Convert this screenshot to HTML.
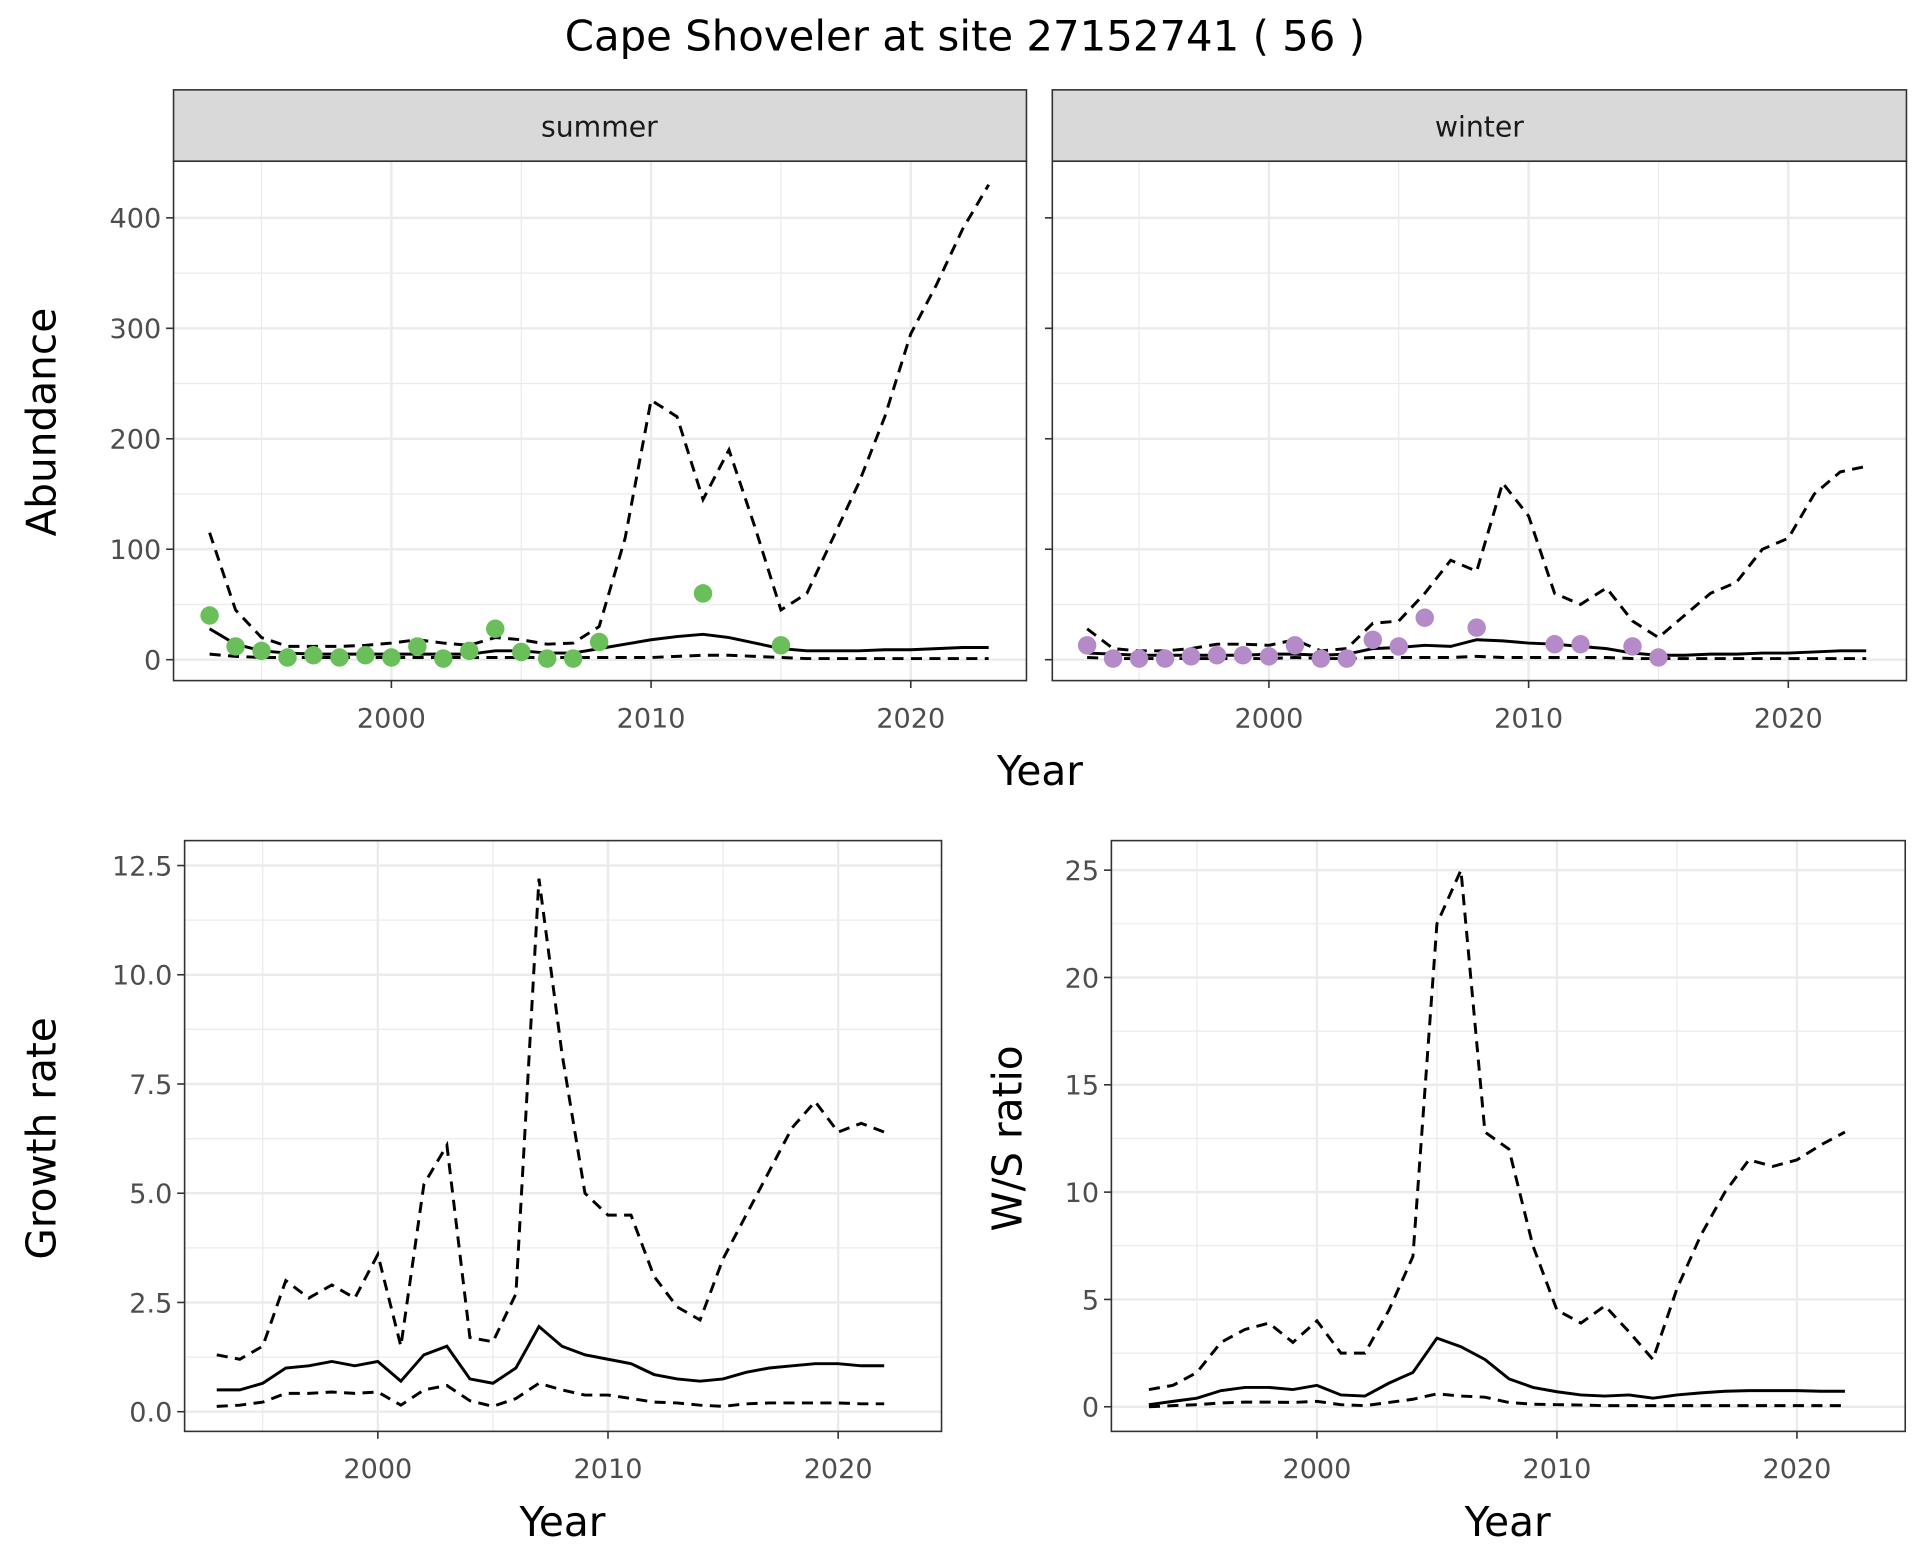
<!DOCTYPE html>
<html><head><meta charset="utf-8"><style>html,body{margin:0;padding:0;background:#fff}svg{display:block}text{font-family:"DejaVu Sans","Liberation Sans",sans-serif}</style></head>
<body>
<svg id="s" width="1920" height="1560" viewBox="0 0 1560 1267.5" xmlns="http://www.w3.org/2000/svg"></svg>
<script>
const S=document.getElementById('s');let h='';
h+='<rect width="1560" height="1268" fill="#fff"/>';
h+='<text x="784" y="41" font-size="34" text-anchor="middle" fill="#000">Cape Shoveler at site 27152741 ( 56 )</text>';
function panel(o){
 const{x0,x1,y0,y1,xf,yf,yt,ytl}=o;
 let g='';
 g+=`<rect x="${x0}" y="${y0}" width="${x1-x0}" height="${y1-y0}" fill="#fff"/>`;
 [1995,2005,2015].forEach(v=>{g+=`<line x1="${xf(v)}" x2="${xf(v)}" y1="${y0}" y2="${y1}" stroke="#ebebeb" stroke-width="1"/>`});
 o.ym.forEach(v=>{g+=`<line x1="${x0}" x2="${x1}" y1="${yf(v)}" y2="${yf(v)}" stroke="#ebebeb" stroke-width="1"/>`});
 [2000,2010,2020].forEach(v=>{g+=`<line x1="${xf(v)}" x2="${xf(v)}" y1="${y0}" y2="${y1}" stroke="#ebebeb" stroke-width="2"/>`});
 yt.forEach(v=>{g+=`<line x1="${x0}" x2="${x1}" y1="${yf(v)}" y2="${yf(v)}" stroke="#ebebeb" stroke-width="2"/>`});
 const line=(ys,x0y,dash)=>{let p=ys.map((v,i)=>`${xf(x0y+i).toFixed(1)},${yf(v).toFixed(1)}`).join(' ');return `<polyline points="${p}" fill="none" stroke="#000" stroke-width="2.4" ${dash?'stroke-dasharray="9,6"':''}/>`};
 o.lines.forEach(l=>g+=line(l[0],o.start,l[1]));
 (o.pts||[]).forEach(p=>{g+=`<circle cx="${xf(p[0])}" cy="${yf(p[1])}" r="7.5" fill="${o.pc}"/>`});
 g+=`<rect x="${x0}" y="${y0}" width="${x1-x0}" height="${y1-y0}" fill="none" stroke="#333" stroke-width="1.3"/>`;
 [2000,2010,2020].forEach(v=>{g+=`<line x1="${xf(v)}" x2="${xf(v)}" y1="${y1}" y2="${y1+6}" stroke="#333" stroke-width="1.3"/><text x="${xf(v)}" y="${y1+38}" font-size="22" text-anchor="middle" fill="#4d4d4d">${v}</text>`});
 if(o.ylab!==false) yt.forEach((v,i)=>{g+=`<line x1="${x0-6}" x2="${x0}" y1="${yf(v)}" y2="${yf(v)}" stroke="#333" stroke-width="1.3"/><text x="${x0-10}" y="${yf(v)+8}" font-size="22" text-anchor="end" fill="#4d4d4d">${ytl[i]}</text>`});
 else yt.forEach(v=>{g+=`<line x1="${x0-6}" x2="${x0}" y1="${yf(v)}" y2="${yf(v)}" stroke="#333" stroke-width="1.3"/>`});
 return g;
}
const sx=v=>318+(v-2000)*21.1, sy=v=>536-v*0.8975;
const wx=v=>1031+(v-2000)*21.1;
const sUp=[115,45,20,12,12,12,13,15,18,15,13,20,18,14,15,30,110,235,220,145,190,120,45,60,110,160,220,295,340,390,430];
const sMe=[28,14,8,6,5,5,5,5,5,5,5,8,8,6,6,10,14,18,21,23,20,15,10,8,8,8,9,9,10,11,11];
const sLo=[5,3,2,2,2,2,2,2,2,2,2,2,2,2,2,2,2,2,3,4,4,3,2,1,1,1,1,1,1,1,1];
const sP=[[1993,40],[1994,12],[1995,8],[1996,2],[1997,4],[1998,2],[1999,4],[2000,2],[2001,12],[2002,1],[2003,8],[2004,28],[2005,7],[2006,1],[2007,1],[2008,16],[2012,60],[2015,13]];
const wUp=[28,10,8,8,10,14,14,13,18,8,10,33,35,60,90,80,160,130,60,50,65,35,20,40,60,70,100,110,150,170,175];
const wMe=[6,5,4,4,4,4,4,5,5,4,5,10,11,13,12,18,17,15,14,12,10,6,4,4,5,5,6,6,7,8,8];
const wLo=[2,1,1,1,1,1,1,1,2,1,1,2,2,2,2,3,2,2,2,2,2,1,1,1,1,1,1,1,1,1,1];
const wP=[[1993,13],[1994,1],[1995,1],[1996,1],[1997,3],[1998,4],[1999,4],[2000,3],[2001,13],[2002,1],[2003,1],[2004,18],[2005,12],[2006,38],[2008,29],[2011,14],[2012,14],[2014,12],[2015,2]];
h+=`<rect x="141" y="73" width="693" height="58" fill="#d9d9d9" stroke="#333" stroke-width="1.3"/><text x="487" y="111" font-size="23" text-anchor="middle" fill="#1a1a1a">summer</text>`;
h+=`<rect x="855" y="73" width="694" height="58" fill="#d9d9d9" stroke="#333" stroke-width="1.3"/><text x="1202" y="111" font-size="23" text-anchor="middle" fill="#1a1a1a">winter</text>`;
h+=panel({x0:141,x1:834,y0:131,y1:553,xf:sx,yf:sy,yt:[0,100,200,300,400],ytl:['0','100','200','300','400'],ym:[50,150,250,350],start:1993,lines:[[sUp,1],[sMe,0],[sLo,1]],pts:sP,pc:'#6abf5a'});
h+=panel({x0:855,x1:1549,y0:131,y1:553,xf:wx,yf:sy,yt:[0,100,200,300,400],ytl:[],ym:[50,150,250,350],start:1993,lines:[[wUp,1],[wMe,0],[wLo,1]],pts:wP,pc:'#b58ac9',ylab:false});
h+=`<text x="845" y="638" font-size="33" text-anchor="middle" fill="#000">Year</text>`;
h+=`<text transform="translate(45,343) rotate(-90)" font-size="33" text-anchor="middle" fill="#000">Abundance</text>`;
const gx=v=>307+(v-2000)*18.7, gy=v=>1147-v*35.5;
const gUp=[1.3,1.2,1.5,3.0,2.6,2.9,2.6,3.6,1.5,5.2,6.1,1.7,1.6,2.7,12.2,8.2,5.0,4.5,4.5,3.1,2.4,2.1,3.5,4.5,5.5,6.5,7.1,6.4,6.6,6.4];
const gMe=[0.5,0.5,0.65,1.0,1.05,1.15,1.05,1.15,0.7,1.3,1.5,0.75,0.65,1.0,1.95,1.5,1.3,1.2,1.1,0.85,0.75,0.7,0.75,0.9,1.0,1.05,1.1,1.1,1.05,1.05];
const gLo=[0.12,0.15,0.22,0.42,0.42,0.45,0.42,0.45,0.15,0.5,0.6,0.25,0.12,0.3,0.65,0.5,0.38,0.38,0.3,0.22,0.2,0.15,0.12,0.18,0.2,0.2,0.2,0.2,0.18,0.18];
h+=panel({x0:150,x1:765,y0:683,y1:1163,xf:gx,yf:gy,yt:[0,2.5,5,7.5,10,12.5],ytl:['0.0','2.5','5.0','7.5','10.0','12.5'],ym:[1.25,3.75,6.25,8.75,11.25],start:1993,lines:[[gUp,1],[gMe,0],[gLo,1]]});
h+=`<text x="457" y="1248" font-size="33" text-anchor="middle" fill="#000">Year</text>`;
h+=`<text transform="translate(45,925) rotate(-90)" font-size="33" text-anchor="middle" fill="#000">Growth rate</text>`;
const rx=v=>1070+(v-2000)*19.5, ry=v=>1143-v*17.44;
const rUp=[0.8,1.0,1.6,3.0,3.6,3.9,3.0,4.0,2.5,2.5,4.5,7.0,22.5,25,12.8,12,7.5,4.5,3.9,4.7,3.5,2.2,5.5,8,10,11.5,11.2,11.5,12.2,12.8];
const rMe=[0.1,0.25,0.4,0.75,0.9,0.9,0.8,1.0,0.55,0.5,1.1,1.6,3.2,2.8,2.2,1.3,0.9,0.7,0.55,0.5,0.55,0.4,0.55,0.65,0.72,0.75,0.75,0.75,0.72,0.72];
const rLo=[0,0.05,0.1,0.18,0.22,0.22,0.2,0.25,0.1,0.05,0.2,0.35,0.6,0.5,0.45,0.2,0.12,0.1,0.08,0.05,0.05,0.05,0.05,0.05,0.05,0.05,0.05,0.05,0.05,0.05];
h+=panel({x0:903,x1:1548,y0:683,y1:1163,xf:rx,yf:ry,yt:[0,5,10,15,20,25],ytl:['0','5','10','15','20','25'],ym:[2.5,7.5,12.5,17.5,22.5],start:1993,lines:[[rUp,1],[rMe,0],[rLo,1]]});
h+=`<text x="1225" y="1248" font-size="33" text-anchor="middle" fill="#000">Year</text>`;
h+=`<text transform="translate(830,925) rotate(-90)" font-size="33" text-anchor="middle" fill="#000">W/S ratio</text>`;
S.innerHTML=h;
</script>
</body></html>
